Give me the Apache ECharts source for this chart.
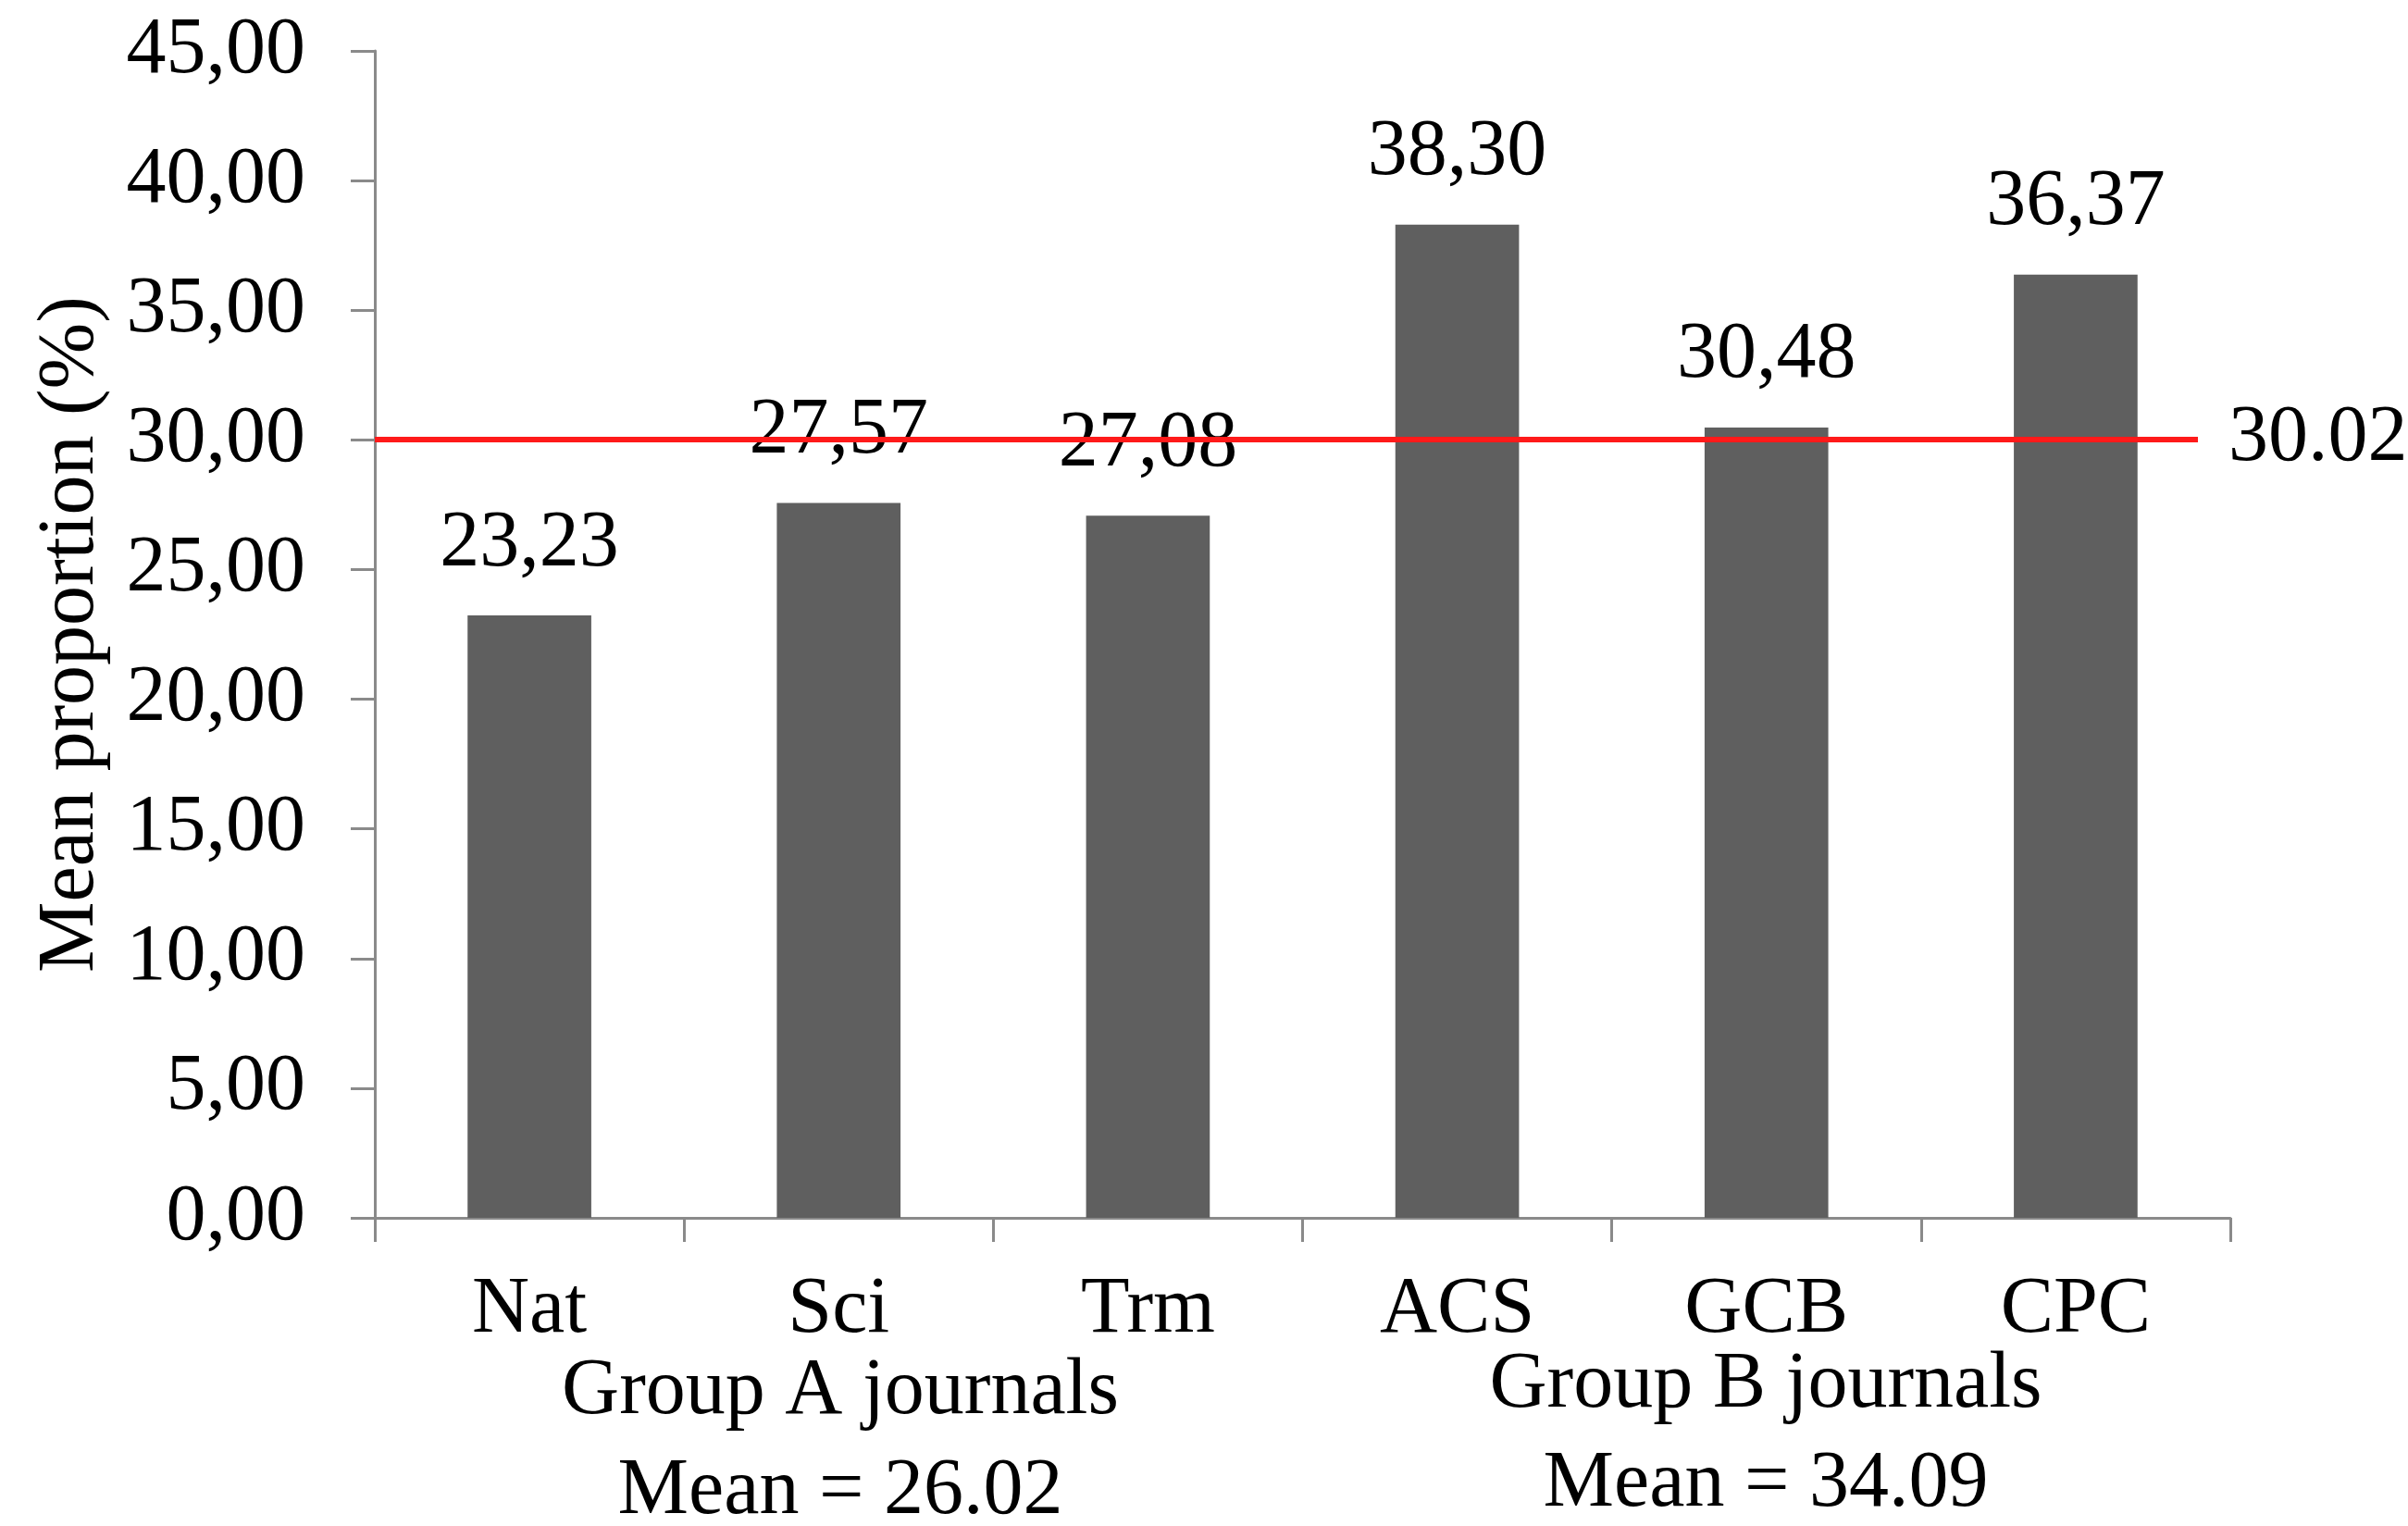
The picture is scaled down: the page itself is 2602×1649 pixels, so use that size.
<!DOCTYPE html>
<html>
<head>
<meta charset="utf-8">
<style>
html,body{margin:0;padding:0;background:#fff;}
#chart{width:2602px;height:1649px;}
</style>
<script src="https://cdn.jsdelivr.net/npm/echarts@6/dist/echarts.min.js"></script>
</head>
<body>
<div id="chart"></div>
<script>
const categories = ['Nat', 'Sci', 'Trm', 'ACS', 'GCB', 'CPC'];
const meanProportion = [23.23, 27.57, 27.08, 38.30, 30.48, 36.37];
const overallMean = 30.02;
const groupLabels = ['Group A journals', 'Group B journals'];
const groupMeans = ['Mean = 26.02', 'Mean = 34.09'];

const FONT = '"Liberation Serif", "Times New Roman", serif';
const FS = 86;
const fmtComma = v => Number(v).toFixed(2).replace('.', ',');
const chart = echarts.init(document.getElementById('chart'));
function groupText(text, x, y) {
  return {
    type: 'text', x: x, y: y, silent: true,
    style: { text: text, align: 'center', verticalAlign: 'middle', fontFamily: FONT, fontSize: FS, fill: '#000' }
  };
}
chart.setOption({
  backgroundColor: '#ffffff',
  animation: false,
  grid: { left: 405, right: 192, top: 55, bottom: 333, containLabel: false },
  xAxis: {
    type: 'category',
    data: categories,
    axisLine: { show: true, lineStyle: { color: '#8a8a8a', width: 3 } },
    axisTick: { show: true, length: 26, lineStyle: { color: '#8a8a8a', width: 3 } },
    axisLabel: { color: '#000', fontFamily: FONT, fontSize: FS, margin: 57 },
    splitLine: { show: false }
  },
  yAxis: {
    type: 'value',
    min: 0, max: 45, interval: 5,
    name: 'Mean proportion (%)',
    nameLocation: 'middle',
    nameGap: 285,
    nameTextStyle: { color: '#000', fontFamily: FONT, fontSize: FS },
    axisLine: { show: true, lineStyle: { color: '#8a8a8a', width: 3 } },
    axisTick: { show: true, length: 26, lineStyle: { color: '#8a8a8a', width: 3 } },
    axisLabel: { color: '#000', fontFamily: FONT, fontSize: FS, margin: 75, formatter: v => fmtComma(v) },
    splitLine: { show: false }
  },
  series: [{
    type: 'bar',
    data: meanProportion,
    barWidth: '40%',
    itemStyle: { color: '#5f5f5f' },
    label: {
      show: true, position: 'top', distance: 34,
      color: '#000', fontFamily: FONT, fontSize: FS,
      formatter: p => fmtComma(p.value)
    },
    markLine: {
      silent: true,
      symbol: ['none', 'none'],
      lineStyle: { color: '#ff1a1a', width: 6, type: 'solid' },
      label: {
        show: true, position: 'end', distance: 33,
        color: '#000', fontFamily: FONT, fontSize: FS,
        formatter: () => overallMean.toFixed(2)
      },
      data: [[{ x: 405, yAxis: overallMean }, { x: 2375, yAxis: overallMean }]]
    }
  }],
  graphic: [
    groupText(groupLabels[0], 908, 1504),
    groupText(groupMeans[0], 908, 1612),
    groupText(groupLabels[1], 1908, 1497),
    groupText(groupMeans[1], 1908, 1604)
  ]
});
</script>
</body>
</html>
